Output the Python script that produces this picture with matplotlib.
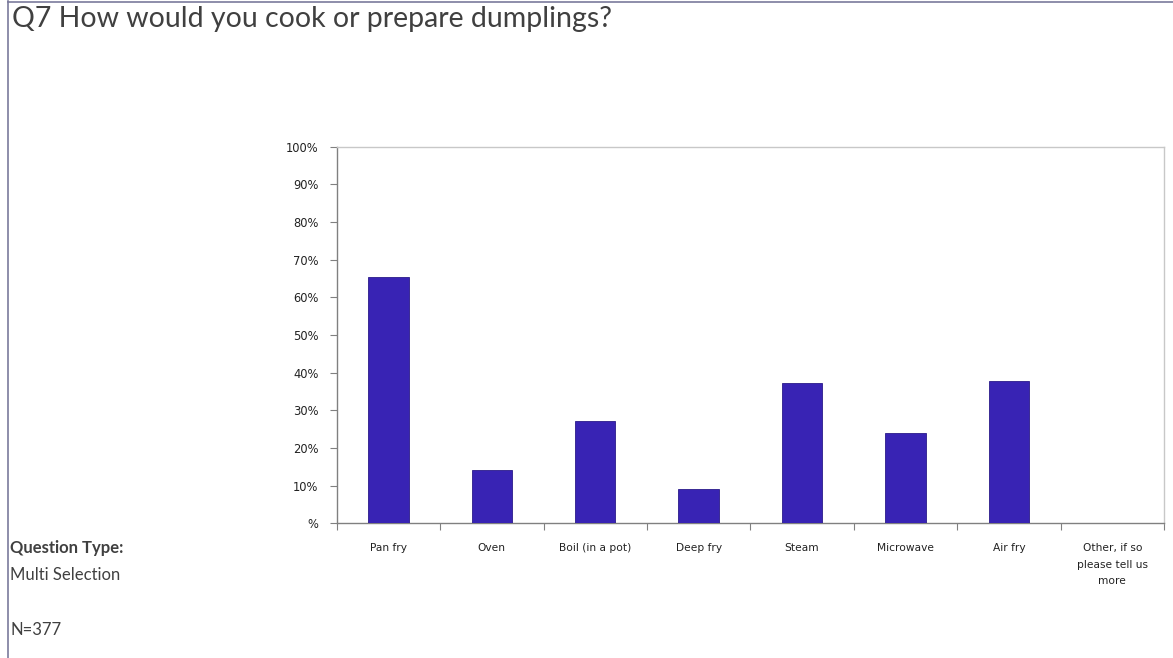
import matplotlib
matplotlib.use("Agg")
import matplotlib.pyplot as plt
from matplotlib.lines import Line2D
from matplotlib.ticker import FixedLocator

categories = ["Pan fry", "Oven", "Boil (in a pot)", "Deep fry", "Steam",
              "Microwave", "Air fry", "Other, if so\nplease tell us\nmore"]
values = [65.5, 14.1, 27.2, 9.2, 37.3, 23.9, 37.7, 0.0]
yticks = [0, 10, 20, 30, 40, 50, 60, 70, 80, 90, 100]
ytick_labels = ["%", "10%", "20%", "30%", "40%", "50%", "60%", "70%", "80%", "90%", "100%"]

W, H = 1173, 658
fig = plt.figure(figsize=(W / 100, H / 100), dpi=100)
fig.patch.set_facecolor("white")

# outer border lines
fig.add_artist(Line2D([8 / W, 8 / W], [0, 1 - 1 / H], transform=fig.transFigure,
                      color="#7a7a9c", lw=1.2))
fig.add_artist(Line2D([8 / W, 1], [1 - 2 / H, 1 - 2 / H], transform=fig.transFigure,
                      color="#7a7a9c", lw=1.2))

ax = fig.add_axes([336.7 / W, 1 - 523.3 / H, (1164 - 336.7) / W, (523.3 - 146.7) / H])
x = list(range(len(categories)))
ax.bar(x, values, width=0.39, color="#3823B4", edgecolor="#2a1a8a", linewidth=0.6, zorder=3)

ax.set_xlim(-0.5, len(categories) - 0.5)
ax.set_ylim(0, 100)
ax.set_yticks(yticks)
ax.set_yticklabels(ytick_labels, fontsize=8.3, family="DejaVu Sans", color="#222222")
ax.set_xticks(x)
ax.set_xticklabels(categories, fontsize=7.7, family="DejaVu Sans", color="#222222",
                   linespacing=1.85, va="top")
ax.xaxis.set_minor_locator(FixedLocator([i + 0.5 for i in range(-1, len(categories))]))
ax.tick_params(axis="x", which="major", length=0, pad=14)
ax.tick_params(axis="x", which="minor", length=5, color="#808080", width=0.8)
ax.tick_params(axis="y", length=5, color="#808080", width=0.8, pad=8)

for s in ["left", "bottom"]:
    ax.spines[s].set_color("#808080")
    ax.spines[s].set_linewidth(1.0)
for s in ["top", "right"]:
    ax.spines[s].set_color("#c8c8c8")
    ax.spines[s].set_linewidth(1.0)

fig.text(12 / W, 1 - 19 / H, "Q7 How would you cook or prepare dumplings?",
         fontsize=20.5, family="Lato", color="#404040", va="center", ha="left")
fig.text(10 / W, 1 - 548 / H, "Question Type:", fontsize=12, family="Lato",
         fontweight="bold", color="#404040", va="center", ha="left")
fig.text(10 / W, 1 - 575 / H, "Multi Selection", fontsize=12, family="Lato",
         color="#404040", va="center", ha="left")
fig.text(10 / W, 1 - 630 / H, "N=377", fontsize=12, family="Lato",
         color="#404040", va="center", ha="left")

fig.savefig("out.png", dpi=100, facecolor="white")
